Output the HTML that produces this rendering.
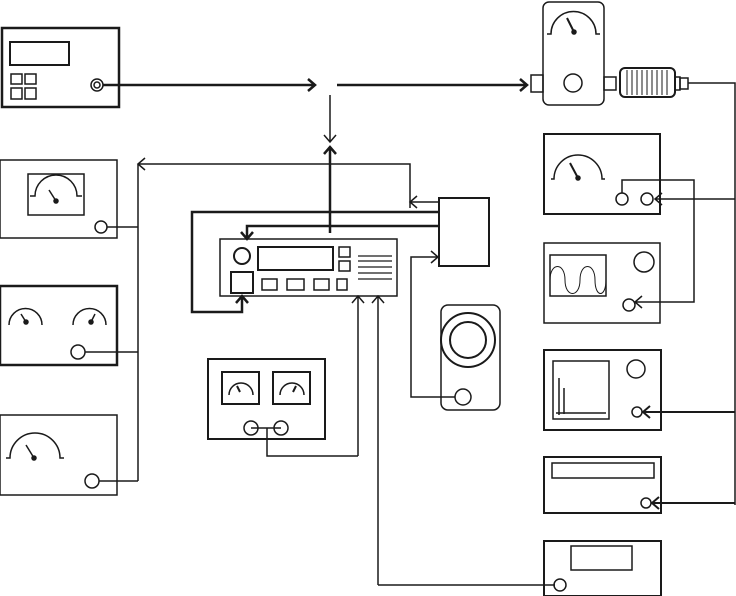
<!DOCTYPE html><html><head><style>body{margin:0;background:#fff}svg{display:block}</style></head><body>
<svg width="736" height="596" viewBox="0 0 736 596" xmlns="http://www.w3.org/2000/svg" fill="none" stroke="#1a1a1a" stroke-width="1.5">
<!-- signal generator -->
<rect x="2" y="28" width="117" height="79" stroke-width="2.5"/>
<rect x="10" y="42" width="59" height="23" stroke-width="2"/>
<rect x="11" y="74" width="11" height="10"/><rect x="25" y="74" width="11" height="10"/>
<rect x="11" y="88" width="11" height="11"/><rect x="25" y="88" width="11" height="11"/>
<circle cx="97" cy="85" r="6"/><circle cx="97" cy="85" r="3"/>
<path d="M103 85H315M308 79l7 6-7 6" stroke-width="2.5"/>
<path d="M337 85H527M520 79l7 6-7 6" stroke-width="2.5"/>
<path d="M330 95V142M324 135l6 7 6-7" stroke-width="1.5"/>
<path d="M330 233V147M324 154l6-7 6 7" stroke-width="2.5"/>
<!-- left bus -->
<path d="M138 164V481M138 164H410V208M145 158l-7 6 7 6"/>
<path d="M438 202H410M417 196l-7 6 7 6"/>
<!-- left meter 1 -->
<rect x="0" y="160" width="117" height="78"/>
<rect x="28" y="174" width="56" height="41"/>
<path d="M30 196h5a21 21 0 0 1 42 0h5"/><circle cx="56" cy="201" r="2" fill="#1a1a1a"/><path d="M56 201l-7-11"/>
<circle cx="101" cy="227" r="6"/><path d="M107 227H138"/>
<!-- left meter 2 -->
<rect x="0" y="286" width="117" height="79" stroke-width="2.5"/>
<path d="M9 325a16 16 0 0 1 33 0"/><circle cx="26" cy="322" r="2" fill="#1a1a1a"/><path d="M26 322l-5-8"/>
<path d="M73 325a16 16 0 0 1 33 0"/><circle cx="91" cy="322" r="2" fill="#1a1a1a"/><path d="M91 322l4-8"/>
<circle cx="78" cy="352" r="7"/><path d="M85 352H138"/>
<!-- left meter 3 -->
<rect x="0" y="415" width="117" height="80"/>
<path d="M6 458h4a25 25 0 0 1 50 0h4"/><circle cx="34" cy="458" r="2" fill="#1a1a1a"/><path d="M34 458l-8-13"/>
<circle cx="92" cy="481" r="7"/><path d="M99 481H138"/>
<!-- main unit -->
<rect x="220" y="239" width="177" height="57"/>
<circle cx="242" cy="256" r="8" stroke-width="2"/>
<rect x="258" y="247" width="75" height="23" stroke-width="2"/>
<rect x="339" y="247" width="11" height="10"/><rect x="339" y="261" width="11" height="10"/>
<rect x="231" y="272" width="22" height="21" stroke-width="2"/>
<rect x="262" y="279" width="15" height="11"/><rect x="287" y="279" width="17" height="11"/><rect x="314" y="279" width="15" height="11"/><rect x="337" y="279" width="10" height="11"/>
<path d="M358 256h34M358 261h34M358 267h34M358 273h34M358 279h34" stroke-width="1.2"/>
<path d="M438 212H192V312H242V296M236 303l6-7 6 7" stroke-width="2.5"/>
<path d="M440 226H247V239M241 232l6 7 6-7" stroke-width="2.5"/>
<rect x="439" y="198" width="50" height="68" stroke-width="2"/>
<path d="M455 397H411V257H438M431 251l7 6-7 6"/>
<!-- speaker -->
<rect x="441" y="305" width="59" height="105" rx="7"/>
<circle cx="468" cy="340" r="27" stroke-width="2"/><circle cx="468" cy="340" r="18" stroke-width="2"/>
<circle cx="463" cy="397" r="8"/>
<!-- arrows under main -->
<path d="M358 456V296M352 303l6-7 6 7"/>
<path d="M378 585V296M372 303l6-7 6 7"/>
<!-- two meter box -->
<rect x="208" y="359" width="117" height="80" stroke-width="2"/>
<rect x="222" y="372" width="37" height="32" stroke-width="2"/><rect x="273" y="372" width="37" height="32" stroke-width="2"/>
<path d="M229 395a12 12 0 0 1 24 0M280 395a12 12 0 0 1 24 0"/><path d="M240 392l-3-6M293 392l3-6" stroke-width="2"/>
<circle cx="251" cy="428" r="7"/><circle cx="281" cy="428" r="7"/><path d="M251 428H281M267 428V456H358"/>
<path d="M378 585H555"/>
<!-- right side top -->
<rect x="543" y="2" width="61" height="103" rx="6"/>
<path d="M547 34h4a22 22 0 0 1 45 0h4"/><circle cx="574" cy="32" r="2" fill="#1a1a1a"/><path d="M574 32l-7-14" stroke-width="2"/>
<circle cx="573" cy="83" r="9"/>
<rect x="531" y="75" width="12" height="17"/><rect x="604" y="77" width="12" height="13"/>
<rect x="620" y="68" width="55" height="29" rx="5" stroke-width="2"/>
<path d="M627 70v25M632 70v25M637 70v25M642 70v25M647 70v25M652 70v25M657 70v25M662 70v25M667 70v25" stroke-width="1"/>
<rect x="675" y="77" width="5" height="13"/><rect x="680" y="78" width="8" height="11"/>
<path d="M688 83H735V505" stroke-width="1.5"/>
<!-- meter box right -->
<rect x="544" y="134" width="116" height="80" stroke-width="2"/>
<path d="M551 179h3a24 24 0 0 1 48 0h3"/><circle cx="578" cy="178" r="2" fill="#1a1a1a"/><path d="M578 178l-8-15" stroke-width="2"/>
<circle cx="622" cy="199" r="6"/><circle cx="647" cy="199" r="6"/>
<path d="M622 193V180H694V302H635M642 296l-7 6 7 6"/>
<path d="M735 199H655M662 193l-7 6 7 6"/>
<!-- scope -->
<rect x="544" y="243" width="116" height="80"/>
<rect x="550" y="255" width="56" height="41"/>
<path d="M550 280c0-18 15-18 15 0s15 18 15 0 15-18 15 0 11 18 11 0" stroke-width="1"/>
<circle cx="644" cy="262" r="10"/><circle cx="629" cy="305" r="6"/>
<!-- spectrum -->
<rect x="544" y="350" width="117" height="80" stroke-width="2"/>
<rect x="553" y="361" width="56" height="58"/>
<path d="M556 413h50M559 378v37M564 388v26" stroke-width="1.5"/>
<circle cx="636" cy="369" r="9"/><circle cx="637" cy="412" r="5"/>
<path d="M735 412H643M650 406l-7 6 7 6" stroke-width="2"/>
<!-- counter -->
<rect x="544" y="457" width="117" height="56" stroke-width="2"/>
<rect x="552" y="463" width="102" height="15"/>
<circle cx="646" cy="503" r="5"/>
<path d="M735 503H652M659 497l-7 6 7 6" stroke-width="2"/>
<!-- last -->
<rect x="544" y="541" width="117" height="55" stroke-width="2"/>
<rect x="571" y="546" width="61" height="24"/>
<circle cx="560" cy="585" r="6"/>
</svg>
</body></html>
